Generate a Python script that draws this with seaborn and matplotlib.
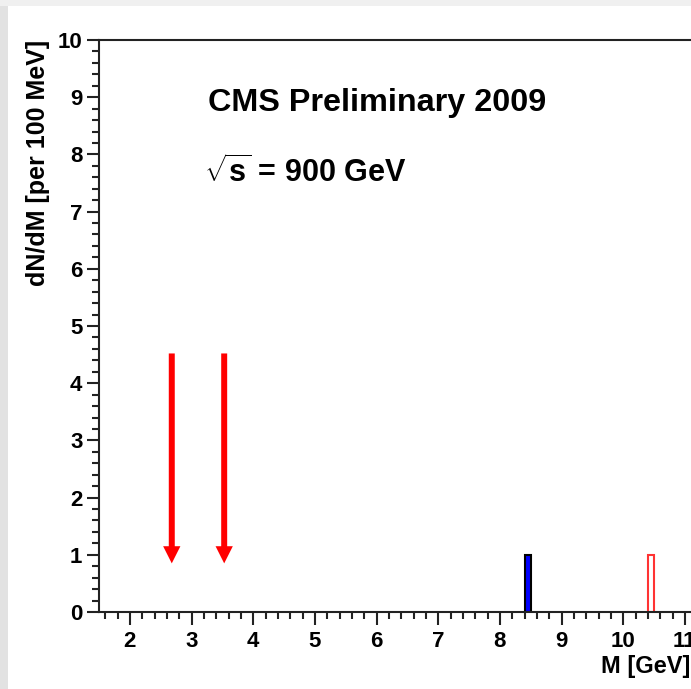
import numpy as np
import pandas as pd
import matplotlib
matplotlib.use("Agg")
import matplotlib.pyplot as plt
from matplotlib.patches import Rectangle
from matplotlib.ticker import MultipleLocator
import seaborn as sns

# ---- data ----
blue_events = [8.45]          # GeV, one entry in bin 8.4-8.5
red_events = [10.45]          # GeV, one entry in bin 10.4-10.5
bin_width = 0.1
arrow_x = [2.68, 3.53]        # GeV
arrow_top = 4.52
arrow_tip = 0.85
x_ticks = [2, 3, 4, 5, 6, 7, 8, 9, 10, 11]
y_ticks = [0, 1, 2, 3, 4, 5, 6, 7, 8, 9, 10]

sns.set_style("ticks")
plt.rcParams['font.family'] = ['Liberation Sans', 'DejaVu Sans']
plt.rcParams['font.weight'] = 'bold'
plt.rcParams['mathtext.fontset'] = 'custom'
plt.rcParams['mathtext.rm'] = 'Liberation Sans:bold'
plt.rcParams['mathtext.bf'] = 'Liberation Sans:bold'
plt.rcParams['mathtext.it'] = 'Liberation Sans:bold'

W, H = 691, 689
fig = plt.figure(figsize=(W / 100, H / 100), dpi=100)
fig.patch.set_facecolor('white')
# gray frame strips
fig.patches.append(Rectangle((0, 0), 8 / W, 1, transform=fig.transFigure,
                             facecolor='#e2e2e2', edgecolor='none', zorder=0))
fig.patches.append(Rectangle((0, 1 - 6 / H), 1, 6 / H, transform=fig.transFigure,
                             facecolor='#f0f0f0', edgecolor='none', zorder=0))

px_per_x = 61.67
xmin, xmax = 1.5, 12.5
ax_left = 99
ax_w = (xmax - xmin) * px_per_x
ax_bottom = H - 612
ax_h = 612 - 40
ax = fig.add_axes([ax_left / W, ax_bottom / H, ax_w / W, ax_h / H])
ax.set_facecolor('white')

df_b = pd.DataFrame({'M': blue_events})
df_r = pd.DataFrame({'M': red_events})
sns.histplot(data=df_b, x='M', binwidth=bin_width, binrange=(8.4, 8.5),
             color='#0000ff', edgecolor='black', linewidth=1.5, alpha=1, ax=ax)
sns.histplot(data=df_r, x='M', binwidth=bin_width, binrange=(10.4, 10.5),
             fill=False, element='bars', color='#ff3333', linewidth=1.5, ax=ax)

for xa in arrow_x:
    ax.arrow(xa, arrow_top, 0, arrow_tip - arrow_top, width=0.097,
             head_width=0.28, head_length=0.30, length_includes_head=True,
             color='#ff0000', linewidth=0, zorder=5)

ax.set_xlim(xmin, xmax)
ax.set_ylim(0, 10)
ax.set_xticks(x_ticks)
ax.set_yticks(y_ticks)
ax.xaxis.set_minor_locator(MultipleLocator(0.2))
ax.yaxis.set_minor_locator(MultipleLocator(0.2))
ax.tick_params(axis='both', which='major', direction='out', length=9, width=1.5,
               labelsize=16, color='#222222', labelcolor='black')
ax.tick_params(axis='both', which='minor', direction='out', length=5, width=1.5,
               color='#222222')
ax.tick_params(axis='x', which='major', pad=5)
ax.tick_params(axis='y', which='major', pad=3)
for lab in ax.get_xticklabels() + ax.get_yticklabels():
    lab.set_fontweight('bold')
for s in ['left', 'bottom', 'top', 'right']:
    ax.spines[s].set_linewidth(1.5)
    ax.spines[s].set_color('#222222')

ax.set_xlabel('')
ax.set_ylabel('')
fig.text(690 / W, 1 - 667 / H, 'M [GeV]', ha='right', va='center',
         fontsize=17, fontweight='bold', color='black')
fig.text(38 / W, 1 - 40 / H, 'dN/dM [per 100 MeV]', rotation=90,
         ha='center', va='top', fontsize=18, fontweight='bold', color='black')

fig.text(208 / W, 1 - 103 / H, 'CMS Preliminary 2009', ha='left', va='center',
         fontsize=23.3, fontweight='bold', color='black')
fig.text(204 / W, 1 - 172 / H, r'$\sqrt{s}$ = 900 GeV', ha='left', va='center',
         fontsize=22, fontweight='bold', color='black')

fig.savefig('out.png', dpi=100)
